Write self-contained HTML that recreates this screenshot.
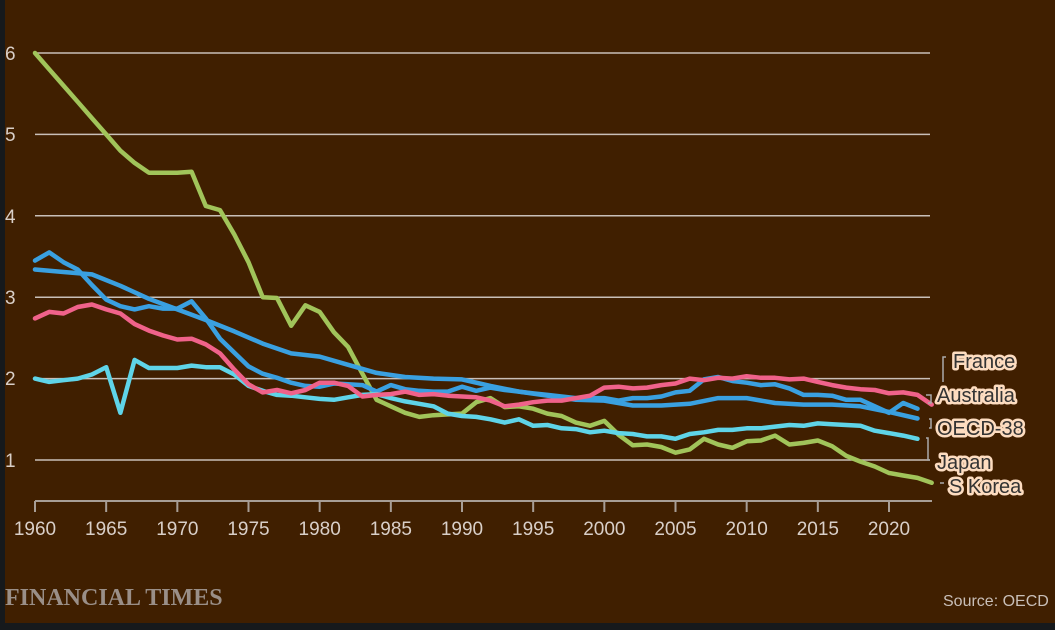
<!DOCTYPE html>
<html><head><meta charset="utf-8"><style>
body{margin:0;background:#16191c;}
svg{display:block;font-family:"Liberation Sans",sans-serif;}
</style></head><body>
<svg id="s" width="1055" height="630" viewBox="0 0 1055 630">
<rect x="5" y="0" width="1050" height="623" fill="#401f00"/>
<g stroke="#c9bfb8" stroke-width="1.5">
<line x1="35" x2="930" y1="53" y2="53"/><line x1="35" x2="930" y1="134.4" y2="134.4"/>
<line x1="35" x2="930" y1="215.8" y2="215.8"/><line x1="35" x2="930" y1="297.2" y2="297.2"/>
<line x1="35" x2="930" y1="378.6" y2="378.6"/><line x1="35" x2="930" y1="460" y2="460"/>
</g>
<g fill="#d9cfc8" font-size="19">
<text x="5" y="60">6</text><text x="5" y="141">5</text><text x="5" y="223">4</text>
<text x="5" y="304">3</text><text x="5" y="385">2</text><text x="5" y="467">1</text>
</g>
<g id="xa"></g>
<g id="lines" fill="none" stroke-width="4.5" stroke-linejoin="round" stroke-linecap="round"></g>
<g stroke="#aaa" stroke-width="1.5" fill="none">
<polyline points="946,357 943,357 943,382"/>
<polyline points="926,395 931,395 931,403 928,403"/>
<polyline points="929,419 931,419 931,428 929,428"/>
<polyline points="926,438 928,438 928,460 930,460"/>
<line x1="940" y1="483" x2="944" y2="483"/>
</g>
<g font-size="20" fill="#333" stroke="#fddcc0" stroke-width="5" stroke-linejoin="round" style="paint-order:stroke">
<text x="953" y="368">France</text>
<text x="937" y="402">Australia</text>
<text x="937" y="435">OECD-38</text>
<text x="937" y="469">Japan</text>
<text x="949" y="493">S Korea</text>
</g>
<text x="5" y="605" font-family="Liberation Serif,serif" font-weight="bold" font-size="24" fill="#9a8f88">FINANCIAL TIMES</text>
<text x="943" y="606" font-size="16" fill="#c9bfb8">Source: OECD</text>
</svg>
<script>
const X=y=>35+(y-1960)*854/60, Y=v=>541.4-v*81.4;
let xa='<line x1="35" x2="932" y1="501" y2="501" stroke="#a89e96" stroke-width="2"/>';
for(let y=1960;y<=2020;y+=5){xa+=`<line x1="${X(y)}" x2="${X(y)}" y1="501" y2="512" stroke="#a89e96" stroke-width="2"/><text x="${X(y)}" y="535" text-anchor="middle" fill="#d9cfc8" font-size="19">${y}</text>`;}
document.getElementById('xa').innerHTML=xa;
const S={
oecd:['#3aa0e0',1960,2,[3.34,3.31,3.28,3.14,2.98,2.85,2.72,2.58,2.43,2.31,2.27,2.17,2.07,2.02,2.00,1.99,1.91,1.84,1.79,1.74,1.73,1.67,1.67,1.69,1.76,1.76,1.70,1.68,1.68,1.66,1.59,1.51]],
aus:['#3aa0e0',1960,1,[3.45,3.55,3.43,3.34,3.15,2.97,2.89,2.85,2.89,2.86,2.86,2.95,2.74,2.49,2.32,2.15,2.06,2.01,1.95,1.91,1.90,1.94,1.93,1.92,1.84,1.92,1.87,1.85,1.84,1.84,1.90,1.85,1.89,1.86,1.84,1.82,1.80,1.78,1.76,1.76,1.76,1.73,1.76,1.76,1.78,1.83,1.85,1.99,2.02,1.97,1.95,1.92,1.93,1.88,1.80,1.80,1.79,1.74,1.74,1.66,1.58,1.70,1.63]],
fra:['#f0628a',1960,1,[2.74,2.82,2.80,2.88,2.91,2.85,2.80,2.67,2.59,2.53,2.48,2.49,2.42,2.31,2.11,1.93,1.83,1.86,1.82,1.86,1.95,1.95,1.91,1.78,1.80,1.81,1.84,1.80,1.81,1.79,1.78,1.77,1.73,1.66,1.68,1.71,1.73,1.73,1.76,1.79,1.89,1.90,1.88,1.89,1.92,1.94,2.00,1.98,2.01,2.00,2.03,2.01,2.01,1.99,2.00,1.96,1.92,1.89,1.87,1.86,1.82,1.83,1.80,1.68]],
jpn:['#5fd4e8',1960,1,[2.0,1.96,1.98,2.0,2.05,2.14,1.58,2.23,2.13,2.13,2.13,2.16,2.14,2.14,2.05,1.91,1.85,1.80,1.79,1.77,1.75,1.74,1.77,1.80,1.81,1.76,1.72,1.69,1.66,1.57,1.54,1.53,1.50,1.46,1.50,1.42,1.43,1.39,1.38,1.34,1.36,1.33,1.32,1.29,1.29,1.26,1.32,1.34,1.37,1.37,1.39,1.39,1.41,1.43,1.42,1.45,1.44,1.43,1.42,1.36,1.33,1.30,1.26]],
kor:['#a1c45a',1960,1,[6.0,5.8,5.6,5.4,5.2,5.0,4.8,4.65,4.53,4.53,4.53,4.54,4.12,4.07,3.77,3.43,3.0,2.99,2.65,2.9,2.82,2.57,2.39,2.06,1.74,1.66,1.58,1.53,1.55,1.56,1.57,1.71,1.76,1.65,1.66,1.63,1.57,1.54,1.46,1.42,1.48,1.31,1.18,1.19,1.16,1.09,1.13,1.26,1.19,1.15,1.23,1.24,1.30,1.19,1.21,1.24,1.17,1.05,0.98,0.92,0.84,0.81,0.78,0.72]]};
let h='';
for(const k of ['kor','oecd','aus','jpn','fra']){const [c,s,st,d]=S[k];
h+=`<polyline stroke="${c}" points="${d.map((v,i)=>X(s+i*st).toFixed(1)+','+Y(v).toFixed(1)).join(' ')}"/>`;}
document.getElementById('lines').innerHTML=h;
</script>
</body></html>
